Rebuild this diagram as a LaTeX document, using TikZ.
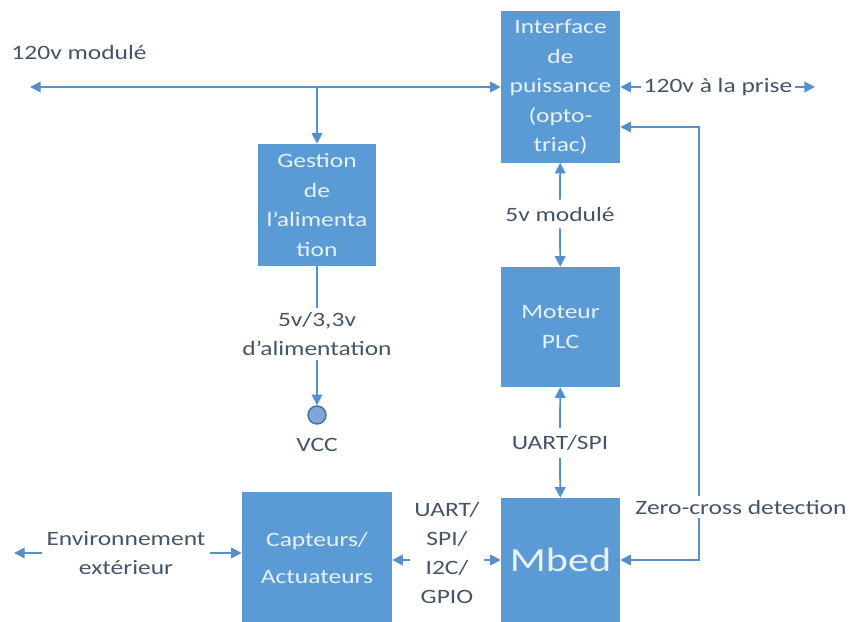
\documentclass[tikz,border=0pt]{standalone}
\usepackage{fontspec}
\setmainfont{Carlito}[FakeStretch=1.25]
\usetikzlibrary{arrows.meta}
\definecolor{boxblue}{HTML}{5B9BD5}
\definecolor{lineblue}{HTML}{5590CC}
\definecolor{labelgray}{HTML}{44546A}
\definecolor{boxtext}{HTML}{E8F1FA}
\definecolor{vccfill}{HTML}{7FA6D8}
\definecolor{vccline}{HTML}{41719C}

\begin{document}
\begin{tikzpicture}[x=0.025cm,y=-0.025cm,
  block/.style={fill=boxblue,text=boxtext,align=center,inner sep=0pt,
    font=\fontsize{14.5}{21}\selectfont},
  lbl/.style={text=labelgray,align=center,inner sep=3pt,
    font=\fontsize{14.5}{20.5}\selectfont},
  arr/.style={lineblue,line width=1.3pt,-{Triangle[length=7.5pt,width=7.5pt]}},
  biarr/.style={lineblue,line width=1.3pt,{Triangle[length=7.5pt,width=7.5pt]}-{Triangle[length=7.5pt,width=7.5pt]}}]
  \useasboundingbox (0,0) rectangle (853,622);
  % blocks
  \node[block,minimum width=2.975cm,minimum height=3.775cm] (iface) at (560.5,87) {Interface\\de\\puissance\\(opto-\\triac)};
  \node[block,minimum width=2.95cm,minimum height=3.05cm] (alim) at (317,205) {Gestion\\de\\l’alimenta\\tion};
  \node[block,minimum width=2.975cm,minimum height=3cm] (plc) at (560.5,327) {Moteur\\PLC};
  \node[block,minimum width=2.975cm,minimum height=3.1cm,font=\fontsize{24}{26}\selectfont] (mbed) at (560.5,560) {Mbed};
  \node[block,minimum width=3.75cm,minimum height=3.3cm,font=\fontsize{14.5}{27}\selectfont] (capt) at (317,558) {Capteurs/\\Actuateurs};
  % 120v bus
  \node[lbl,anchor=west] (bus) at (7,53) {120v modulé};
  \coordinate (busL) at (30,87);
  \coordinate (busJ) at (317,87);
  \draw[arr] (busJ) -- (busL);
  \draw[arr] (busJ) -- (iface.west);
  \draw[arr] (busJ) -- (alim.north);
  \node[lbl,inner sep=2pt] (prise) at (718,87) {120v à la prise};
  \coordinate (priseR) at (815,87);
  \draw[arr] (prise) -- (iface.east);
  \draw[arr] (prise) -- (priseR);
  % supply
  \node[lbl] (tension) at (317,334) {5v/3,3v\\d’alimentation};
  \node[circle,draw=vccline,fill=vccfill,line width=1pt,minimum size=0.45cm,inner sep=0pt] (vcc) at (317,415) {};
  \node[lbl] (vcclbl) at (317,445) {VCC};
  \draw[lineblue,line width=1.3pt] (alim) -- (tension);
  \draw[arr] (tension) -- (vcc);
  % power interface to plc to mbed
  \node[lbl,inner sep=5pt] (m5v) at (560,214) {5v modulé};
  \draw[arr] (m5v) -- (iface);
  \draw[arr] (m5v) -- (plc);
  \node[lbl,inner sep=5pt] (uspi) at (560,443) {UART/SPI};
  \draw[arr] (uspi) -- (plc);
  \draw[arr] (uspi) -- (mbed);
  % zero-cross feedback
  \coordinate (zcT) at (699,127);
  \coordinate (zcB) at (699,560);
  \draw[biarr] (iface.east |- zcT) -- (zcT) -- (zcB) -- (mbed.east);
  \node[lbl,fill=white] (zc) at (741,507) {Zero-cross detection};
  % sensors
  \node[lbl] (periph) at (447,553) {UART/\\SPI/\\I2C/\\GPIO};
  \draw[arr] (periph.west |- mbed.west) -- (capt.east |- mbed.west);
  \draw[arr] (periph.east |- mbed.west) -- (mbed.west);
  \node[lbl] (env) at (126,553) {Environnement\\extérieur};
  \coordinate (envL) at (14,553);
  \draw[arr] (env) -- (envL);
  \draw[arr] (env) -- (env -| capt.west);
\end{tikzpicture}
\end{document}
